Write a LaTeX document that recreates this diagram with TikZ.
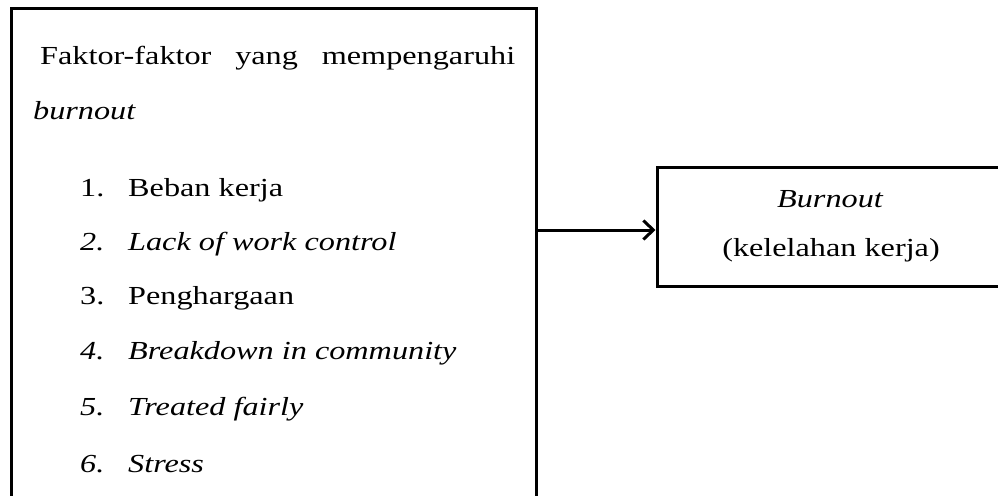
\documentclass[tikz,border=0pt]{standalone}
\usepackage{fontspec}
\usepackage{graphicx}
\setmainfont{Liberation Serif}
\usetikzlibrary{arrows.meta}
\newcommand\sx[1]{\scalebox{1.24}[1]{#1}}
\begin{document}
\begin{tikzpicture}[x=1pt,y=-1pt,
  boxstyle/.style={draw=black, line width=3pt, inner sep=0pt},
  txt/.style={anchor=base west, inner sep=0pt, font=\fontsize{26}{32}\selectfont},
  ctxt/.style={anchor=base, inner sep=0pt, font=\fontsize{26}{32}\selectfont},
  arr/.style={line width=3pt, -{Straight Barb[length=10pt,width=19pt,line width=3pt]}}]
\useasboundingbox (0,0) rectangle (998,495);
\clip (0,0) rectangle (998,495);
\node[boxstyle, minimum width=525pt, minimum height=511pt] (left) at (273.5,264.5) {};
\node[boxstyle, minimum width=346pt, minimum height=119pt] (right) at (830,226.5) {};
\node[txt] (t0) at (40,65) {\makebox[475pt][s]{\sx{Faktor-faktor}\hfill\sx{yang}\hfill\sx{mempengaruhi}}};
\node[txt] (t1) at (33,119) {\sx{\itshape burnout}};
\node[txt] (n1) at (80,196) {\sx{1.}};
\node[txt] (i1) at (128,196) {\sx{Beban kerja}};
\node[txt] (n2) at (80,250) {\sx{\itshape 2.}};
\node[txt] (i2) at (128,250) {\sx{\itshape Lack of work control}};
\node[txt] (n3) at (80,304) {\sx{3.}};
\node[txt] (i3) at (128,304) {\sx{Penghargaan}};
\node[txt] (n4) at (80,359) {\sx{\itshape 4.}};
\node[txt] (i4) at (128,359) {\sx{\itshape Breakdown in community}};
\node[txt] (n5) at (80,415) {\sx{\itshape 5.}};
\node[txt] (i5) at (128,415) {\sx{\itshape Treated fairly}};
\node[txt] (n6) at (80,472) {\sx{\itshape 6.}};
\node[txt] (i6) at (128,472) {\sx{\itshape Stress}};
\node[ctxt] (r1) at (830,207) {\sx{\itshape Burnout}};
\node[ctxt] (r2) at (831,256) {\sx{(kelelahan kerja)}};
\draw[arr] (left.east |- 0,230) -- (right.west |- 0,230);
\end{tikzpicture}
\end{document}
